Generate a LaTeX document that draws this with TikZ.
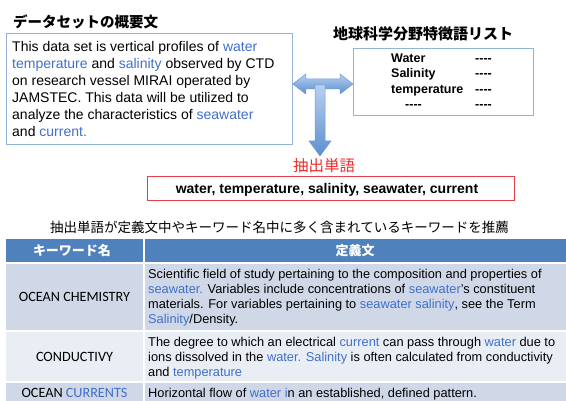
\documentclass[tikz,border=0pt]{standalone}
\usepackage{fontspec}
\setmainfont{Liberation Sans}
\newfontfamily\cjk{Noto Sans CJK JP}
\newfontfamily\calfont{Carlito}
\usetikzlibrary{calc}
\definecolor{txtblue}{HTML}{4070C8}
\definecolor{boxblue}{HTML}{95B3D7}
\definecolor{hdrblue}{HTML}{4F81BD}
\definecolor{rowdark}{HTML}{D0D8E8}
\definecolor{rowlight}{HTML}{E9EDF4}
\definecolor{redtxt}{HTML}{F02828}
\definecolor{redbox}{HTML}{E8404A}
\definecolor{arrlight}{HTML}{B8D0F0}
\definecolor{arrdark}{HTML}{5B8FD0}
\definecolor{arredge}{HTML}{6F9BD3}
\newcommand{\bl}[1]{\textcolor{txtblue}{#1}}
\newcommand{\dashes}{-{}-{}-{}-}
\begin{document}
\begin{tikzpicture}[x=1pt,y=-1pt,
  jtitle/.style={font=\cjk\bfseries\fontsize{14.5}{16}\selectfont, inner sep=0, anchor=west},
  framebox/.style={draw=boxblue, line width=0.8pt, anchor=north west, inner sep=0},
  bodytext/.style={align=left, inner sep=0, anchor=north west},
  listword/.style={font=\bfseries\fontsize{12.5}{14}\selectfont, inner sep=0, anchor=base west},
  fatarrow/.style={top color=arrlight, bottom color=arrdark, draw=arredge, line width=0.5pt},
  keycell/.style={font=\calfont\fontsize{14.2}{16}\selectfont, inner sep=0},
  defcell/.style={font=\fontsize{12.8}{15}\selectfont, align=left, inner sep=0, anchor=north west},
  hdrtext/.style={font=\cjk\bfseries\fontsize{13}{14}\selectfont, text=white, inner sep=0}
]
\useasboundingbox (0,0) rectangle (566,401);
\fill[white] (0,0) rectangle (566,401);

% ---- left: dataset summary
\node[jtitle] (t1) at (13,22) {データセットの概要文};
\node[framebox, minimum width=286pt, minimum height=111pt] (src) at (6,33) {};
\node[bodytext, font=\fontsize{14}{17}\selectfont] (srctext) at (12,40.8) {%
This data set is vertical profiles of \bl{water}\\
\bl{temperature} and \bl{salinity} observed by CTD\\
on research vessel MIRAI operated by\\
JAMSTEC. This data will be utilized to\\
analyze the characteristics of \bl{seawater}\\
and \bl{current.}};

% ---- right: earth science word list
\node[jtitle, font=\cjk\bfseries\fontsize{15}{16}\selectfont] (t2) at (333,34) {地球科学分野特徴語リスト};
\node[framebox, minimum width=180pt, minimum height=67pt] (lst) at (353,48) {};
\node[listword] (w1) at (391,62.5) {Water};
\node[listword] (d1) at (475,62.5) {\dashes};
\node[listword] (w2) at (391,78) {Salinity};
\node[listword] (d2) at (475,78) {\dashes};
\node[listword] (w3) at (391,93.5) {temperature};
\node[listword] (d3) at (475,93.5) {\dashes};
\node[listword] (w4) at (405,109) {\dashes};
\node[listword] (d4) at (475,109) {\dashes};

% ---- extracted words
\node[font=\cjk\fontsize{15.5}{17}\selectfont, text=redtxt, inner sep=0] (ext) at (324,166) {抽出単語};
\node[draw=redbox, line width=0.8pt, minimum width=367pt, minimum height=24pt, inner sep=0, anchor=north west] (wbox) at (147,176) {};
\node[font=\bfseries\fontsize{14}{16}\selectfont, inner sep=0, anchor=base] (words) at (327,194) {water, temperature, salinity, seawater, current};

% ---- arrows
\coordinate (L) at (src.east |- 0,84);
\coordinate (R) at (lst.west |- 0,84);
\path[fatarrow] (L) -- ($(L)+(13,-10)$) -- ($(L)+(13,-5)$) -- ($(R)+(-13,-5)$) -- ($(R)+(-13,-10)$)
  -- (R) -- ($(R)+(-13,10)$) -- ($(R)+(-13,5)$) -- ($(L)+(13,5)$) -- ($(L)+(13,10)$) -- cycle;
\coordinate (T) at (320,85);
\coordinate (B) at (320,156);
\path[fatarrow] ($(T)+(-5,0)$) -- ($(T)+(5,0)$) -- ($(B)+(5,-15)$) -- ($(B)+(11,-15)$) -- (B)
  -- ($(B)+(-11,-15)$) -- ($(B)+(-5,-15)$) -- cycle;

% ---- subtitle
\node[font=\cjk\fontsize{13.5}{15}\selectfont, inner sep=0, anchor=west] (sub) at (50,227.5) {抽出単語が定義文中やキーワード名中に多く含まれているキーワードを推薦};

% ---- table
\fill[hdrblue] (6,239) rectangle (566,262);
\fill[rowdark] (6,264) rectangle (566,330);
\fill[rowlight] (6,332) rectangle (566,381);
\fill[rowdark] (6,383) rectangle (566,401);
\fill[white] (143,239) rectangle (145,401);
\node[hdrtext] (h1) at (72,251) {キーワード名};
\node[hdrtext] (h2) at (355,251) {定義文};

\node[keycell] (k1) at (74.5,297) {OCEAN CHEMISTRY};
\node[keycell] (k2) at (74.5,356.5) {CONDUCTIVY};
\node[keycell] (k3) at (74.5,393) {OCEAN \bl{CURRENTS}};

\node[defcell] (def1) at (148,269.3) {%
Scientific field of study pertaining to the composition and properties of\\
\bl{seawater.} Variables include concentrations of \bl{seawater}'s constituent\\
materials. For variables pertaining to \bl{seawater salinity}, see the Term\\
\bl{Salinity}/Density.};
\node[defcell] (def2) at (148,337.3) {%
The degree to which an electrical \bl{current} can pass through \bl{water} due to\\
ions dissolved in the \bl{water. Salinity} is often calculated from conductivity\\
and \bl{temperature}};
\node[defcell, anchor=base west] (def3) at (148,397.6) {Horizontal flow of \bl{water i}n an established, defined pattern.};
\end{tikzpicture}
\end{document}
